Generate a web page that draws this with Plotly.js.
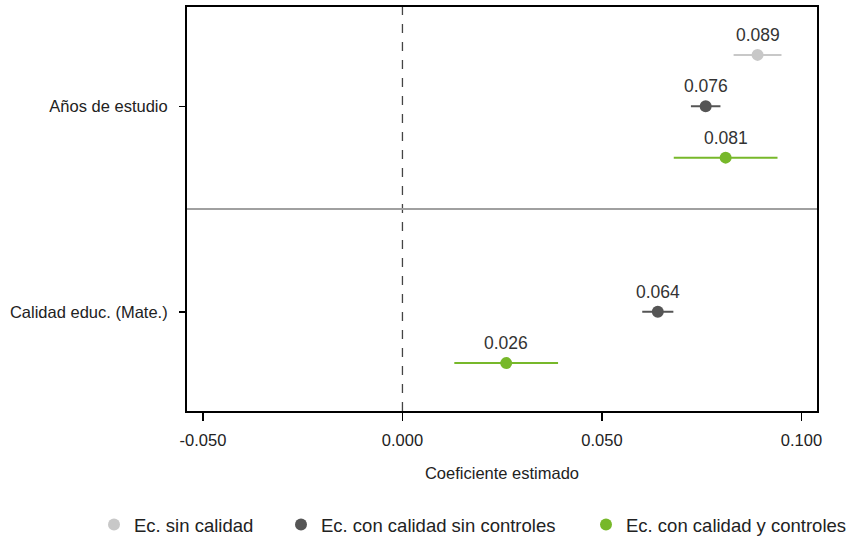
<!DOCTYPE html>
<html>
<head>
<meta charset="utf-8">
<script src="https://cdn.plot.ly/plotly-3.0.1.min.js"></script>
<style>html,body{margin:0;padding:0;background:#fff;}#chart{width:855px;height:542px;}</style>
</head>
<body>
<div id="chart"></div>
<script>
// Categories (top to bottom)
const categories = ["Años de estudio", "Calidad educ. (Mate.)"];
const seriesNames = ["Ec. sin calidad", "Ec. con calidad sin controles", "Ec. con calidad y controles"];
const seriesColors = ["#c8c8c8", "#555555", "#77b82a"];
const xTickValues = [-0.05, 0, 0.05, 0.1];

// Coefficients per category (null = not estimated)
const sinCalidad = [0.089, null];
const sinCalidadErr = [0.006, null];
const sinControles = [0.076, 0.064];
const sinControlesErr = [0.0037, 0.0039];
const conControles = [0.081, 0.026];
const conControlesErr = [0.013, 0.013];

const seriesValues = [sinCalidad, sinControles, conControles];
const seriesErrors = [sinCalidadErr, sinControlesErr, conControlesErr];
const offsets = [0.25, 0, -0.25];
const catPos = categories.map((c, i) => categories.length - 1 - i);
// legend entry left edges (fraction of page width)
const legendX = [94 / 855, 281 / 855, 586 / 855];

const fontFam = "Liberation Sans, Arial, sans-serif";
const traces = [];
const annotations = [];
const legendIds = ["legend", "legend2", "legend3"];
seriesValues.forEach((vals, s) => {
  const xs = [], ys = [], es = [];
  vals.forEach((v, i) => {
    if (v === null) return;
    const y = catPos[i] + offsets[s];
    xs.push(v); ys.push(y); es.push(seriesErrors[s][i]);
    annotations.push({
      x: v, y: y, xref: "x", yref: "y", text: v.toFixed(3), showarrow: false,
      yanchor: "middle", xanchor: "center", yshift: 20,
      font: {size: 17.5, color: "#333", family: fontFam}
    });
  });
  traces.push({
    type: "scatter", mode: "markers", name: seriesNames[s], x: xs, y: ys,
    legend: legendIds[s],
    marker: {color: seriesColors[s], size: 12},
    error_x: {type: "data", array: es, visible: true, color: seriesColors[s], thickness: 2, width: 0},
    hoverinfo: "x"
  });
});

const layout = {
  width: 855, height: 542,
  margin: {l: 187, r: 38, t: 7, b: 131, autoexpand: false},
  paper_bgcolor: "#fff", plot_bgcolor: "#fff",
  font: {family: fontFam, color: "#222", size: 14},
  xaxis: {
    range: [-0.054, 0.1039], tickvals: xTickValues, ticktext: xTickValues.map(v => v.toFixed(3)),
    showgrid: false, zeroline: false, showline: true, linecolor: "#000", linewidth: 2, mirror: true,
    ticks: "outside", ticklen: 8, tickcolor: "#000", tickwidth: 1.5, ticklabelstandoff: 5,
    tickfont: {size: 16.5, color: "#222"}, automargin: false,
    title: {text: "Coeficiente estimado", font: {size: 16.5, color: "#222"}, standoff: 20}
  },
  yaxis: {
    range: [-0.483, 1.483], tickvals: catPos, ticktext: categories,
    showgrid: false, zeroline: false, showline: true, linecolor: "#000", linewidth: 2, mirror: true,
    ticks: "outside", ticklen: 6, tickcolor: "#000", tickwidth: 1.5, ticklabelstandoff: 8,
    tickfont: {size: 16.5, color: "#222"}, automargin: false
  },
  shapes: [
    {type: "line", xref: "x", yref: "paper", x0: 0, x1: 0, y0: 0, y1: 1, line: {color: "#444", width: 1.3, dash: "dash"}},
    {type: "line", xref: "paper", yref: "y", x0: 0, x1: 1, y0: 0.5, y1: 0.5, line: {color: "#a0a0a0", width: 2}}
  ],
  annotations: annotations,
  showlegend: true
};
legendIds.forEach((id, s) => {
  layout[id] = {orientation: "h", xref: "container", yref: "paper", x: legendX[s], xanchor: "left",
                y: -0.282, yanchor: "middle", bgcolor: "rgba(0,0,0,0)",
                font: {size: 18.5, color: "#222", family: fontFam}, itemsizing: "constant"};
});

Plotly.newPlot("chart", traces, layout, {displayModeBar: false, staticPlot: true});
</script>
</body>
</html>
